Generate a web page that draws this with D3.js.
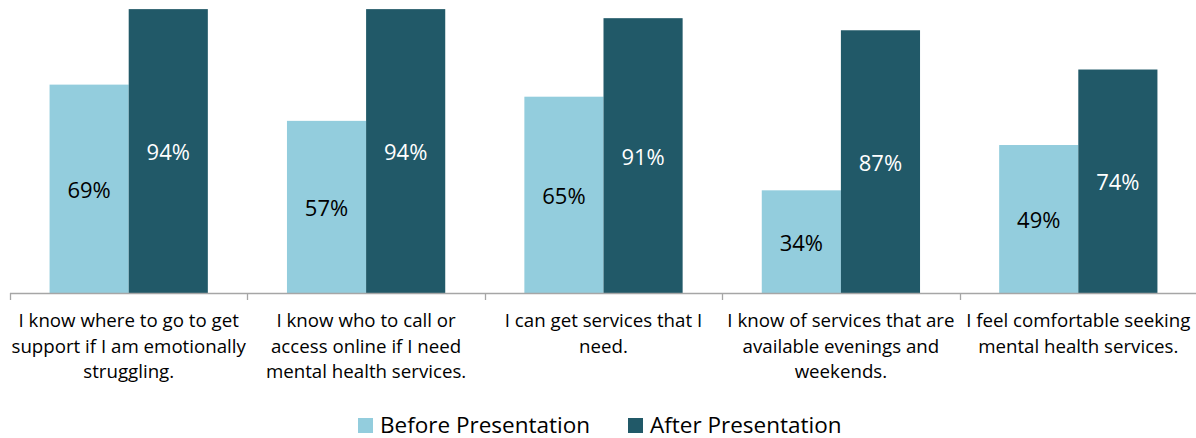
<!DOCTYPE html>
<html><head><meta charset="utf-8">
<script src="https://cdn.jsdelivr.net/npm/d3@7"></script>
<style>body{margin:0;background:#fff;} svg{display:block;}</style>
</head><body>
<svg id="chart" width="1196" height="438"></svg>
<script>
const categories = [
  "I know where to go to get|support if I am emotionally|struggling.",
  "I know who to call or|access online if I need|mental health services.",
  "I can get services that I|need.",
  "I know of services that are|available evenings and|weekends.",
  "I feel comfortable seeking|mental health services."
];
const seriesNames = ["Before Presentation", "After Presentation"];
const before = [69, 57, 65, 34, 49];
const after = [94, 94, 91, 87, 74];
const colors = ["#93CDDD", "#215968"];
const labelColors = ["#000000", "#ffffff"];

const svg = d3.select("#chart");
const font = "'Open Sans', sans-serif";
const x0 = d3.scaleBand().domain(d3.range(categories.length)).range([10, 1197]).paddingInner(0).paddingOuter(0);
const x1 = d3.scaleBand().domain([0, 1]).range([0, x0.bandwidth()]).paddingInner(0).paddingOuter(0.5);
const y = d3.scaleLinear().domain([0, 100]).range([293, -9]);

const data = categories.map((c, i) => ({i, vals: [before[i], after[i]]}));
const g = svg.selectAll("g.grp").data(data).join("g").attr("transform", d => `translate(${x0(d.i)},0)`);
g.selectAll("rect").data(d => d.vals.map((v, s) => ({v, s}))).join("rect")
  .attr("x", d => x1(d.s)).attr("width", x1.bandwidth())
  .attr("y", d => y(d.v)).attr("height", d => y(0) - y(d.v))
  .attr("fill", d => colors[d.s]);
g.selectAll("text.val").data(d => d.vals.map((v, s) => ({v, s}))).join("text")
  .attr("class", "val")
  .attr("x", d => x1(d.s) + x1.bandwidth() / 2)
  .attr("y", d => (y(d.v) + y(0)) / 2)
  .attr("text-anchor", "middle").attr("dominant-baseline", "central")
  .attr("font-family", font).attr("font-size", 22)
  .attr("fill", d => labelColors[d.s]).text(d => d.v + "%");

// axis
const axis = svg.append("g").attr("transform", `translate(0,${y(0)})`);
axis.append("line").attr("x1", 10).attr("x2", 1197).attr("y1", 0.5).attr("y2", 0.5).attr("stroke", "#a6a6a6").attr("stroke-width", 1.3);
const ticks = d3.range(categories.length + 1).map(k => k < categories.length ? x0(k) : x0.range()[1]);
axis.selectAll("line.tick").data(ticks).join("line").attr("class", "tick")
  .attr("x1", d => Math.round(d) + 0.5).attr("x2", d => Math.round(d) + 0.5)
  .attr("y1", 0).attr("y2", 7).attr("stroke", "#a6a6a6").attr("stroke-width", 1.3);

const lbl = svg.selectAll("text.cat").data(categories).join("text").attr("class", "cat")
  .attr("x", (d, i) => x0(i) + x0.bandwidth() / 2).attr("y", 327)
  .attr("text-anchor", "middle").attr("font-family", font).attr("font-size", 18.7).attr("fill", "#000");
lbl.selectAll("tspan").data(d => d.split("|")).join("tspan")
  .attr("x", function() { return this.parentNode.getAttribute("x"); })
  .attr("dy", (d, j) => j === 0 ? 0 : 25.7).text(d => d);

// legend
const legX = [358, 628];
const leg = svg.selectAll("g.leg").data(seriesNames).join("g").attr("class", "leg")
  .attr("transform", (d, i) => `translate(${legX[i]},418)`);
leg.append("rect").attr("width", 15).attr("height", 15).attr("fill", (d, i) => colors[i]);
leg.append("text").attr("x", 22).attr("y", 14.5).attr("font-family", font).attr("font-size", 22.5).attr("fill", "#000").text(d => d);
</script>
</body></html>
